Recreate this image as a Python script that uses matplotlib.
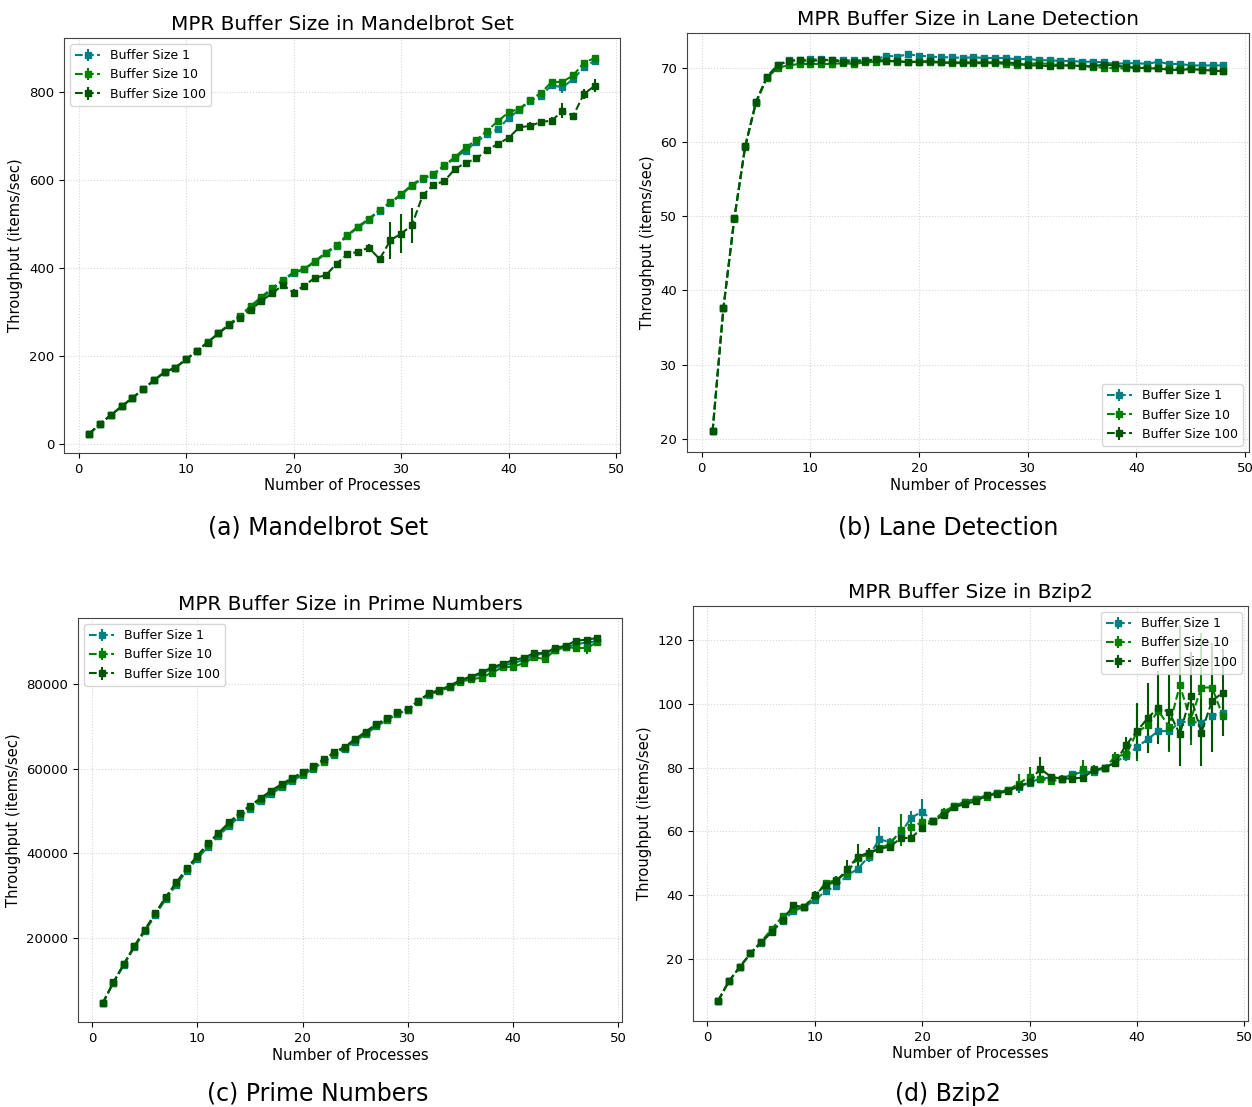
import matplotlib
matplotlib.use("Agg")
import matplotlib.pyplot as plt

W, H = 1252, 1107

processes = list(range(1, 49))
series_labels = ["Buffer Size 1", "Buffer Size 10", "Buffer Size 100"]
series_colors = ["#008080", "#008000", "#005500"]

# ---- Mandelbrot Set ----
mandel_b1 = [23, 45, 65, 85, 104, 124, 144, 163, 173, 192, 211, 231, 251, 271, 289, 310,
             330, 350, 370, 388, 397, 414, 433, 450, 473, 492, 510, 530, 547, 566, 587, 603,
             612, 631, 650, 667, 686, 705, 716, 741, 760, 780, 792, 815, 811, 829, 857, 871]
mandel_b10 = [23, 45, 65, 85, 104, 124, 144, 163, 173, 192, 211, 231, 251, 272, 291, 313,
              334, 354, 373, 390, 398, 416, 435, 452, 475, 494, 512, 532, 549, 568, 589, 605,
              614, 633, 652, 674, 691, 712, 734, 754, 762, 782, 798, 823, 823, 838, 867, 877]
mandel_b100 = [23, 46, 65, 85, 104, 124, 144, 163, 173, 192, 211, 230, 251, 270, 287, 304,
               325, 342, 361, 344, 360, 378, 383, 410, 431, 437, 446, 420, 463, 478, 497, 565,
               589, 597, 625, 639, 649, 668, 682, 696, 720, 723, 732, 735, 757, 746, 796, 814]
mandel_err1 = [1, 1, 1, 1, 1, 1, 1, 1, 1, 1, 1, 1, 1, 2, 2, 2, 2, 2, 2, 2, 2, 2, 2, 2,
               2, 2, 2, 2, 2, 2, 2, 2, 2, 2, 2, 3, 3, 3, 3, 3, 3, 3, 3, 5, 13, 5, 4, 3]
mandel_err10 = [1, 1, 1, 1, 1, 1, 1, 1, 1, 1, 1, 1, 1, 2, 2, 2, 2, 2, 2, 2, 2, 2, 2, 2,
                2, 2, 2, 2, 2, 2, 2, 2, 2, 2, 2, 3, 3, 3, 3, 3, 3, 3, 3, 6, 4, 6, 4, 3]
mandel_err100 = [1, 1, 1, 1, 1, 1, 1, 1, 1, 1, 1, 1, 1, 2, 3, 2, 3, 3, 8, 8, 3, 3, 3, 4,
                 6, 5, 8, 8, 42, 44, 40, 8, 4, 4, 4, 4, 6, 4, 3, 3, 4, 8, 4, 8, 17, 4, 12, 15]

# ---- Lane Detection ----
lane_b1 = [21.0, 37.6, 49.7, 59.4, 65.4, 68.8, 70.4, 71.0, 71.0, 71.1, 71.1, 71.0, 71.0, 71.0,
           71.0, 71.1, 71.6, 71.5, 71.8, 71.6, 71.5, 71.4, 71.4, 71.3, 71.4, 71.3, 71.3, 71.3,
           71.1, 71.2, 71.0, 71.0, 70.9, 70.9, 70.8, 70.8, 70.7, 70.5, 70.6, 70.6, 70.5, 70.8,
           70.5, 70.5, 70.3, 70.3, 70.3, 70.3]
lane_b10 = [21.0, 37.6, 49.6, 59.3, 65.3, 68.6, 70.0, 70.3, 70.5, 70.5, 70.5, 70.5, 70.6, 70.5,
            70.7, 70.8, 70.9, 70.8, 70.8, 70.8, 70.7, 70.7, 70.6, 70.6, 70.6, 70.6, 70.6, 70.5,
            70.3, 70.5, 70.6, 70.5, 70.3, 70.3, 70.2, 70.1, 70.0, 69.9, 69.9, 70.0, 70.0, 69.9,
            69.9, 69.9, 69.9, 69.7, 69.7, 69.6]
lane_b100 = [21.0, 37.6, 49.7, 59.4, 65.4, 68.7, 70.3, 70.9, 71.0, 70.9, 71.0, 71.0, 70.8, 70.8,
             70.9, 71.1, 70.9, 70.9, 70.7, 70.8, 70.9, 70.7, 70.7, 70.7, 70.7, 70.7, 70.7, 70.7,
             70.6, 70.3, 70.3, 70.2, 70.3, 70.3, 70.2, 70.2, 70.4, 70.3, 70.1, 70.0, 69.9, 69.9,
             69.7, 69.7, 69.8, 69.7, 69.6, 69.5]
lane_err1 = [0.2, 0.3, 0.3, 0.3, 0.3, 0.3, 0.3, 0.3, 0.3, 0.3, 0.3, 0.3, 0.3, 0.3, 0.3, 0.3,
             0.3, 0.3, 0.3, 0.3, 0.3, 0.3, 0.3, 0.3, 0.3, 0.3, 0.3, 0.3, 0.3, 0.3, 0.3, 0.3,
             0.3, 0.3, 0.3, 0.3, 0.3, 0.3, 0.3, 0.3, 0.3, 0.4, 0.3, 0.3, 0.3, 0.3, 0.3, 0.3]
lane_err10 = [0.2, 0.3, 0.3, 0.3, 0.3, 0.3, 0.3, 0.3, 0.3, 0.3, 0.3, 0.3, 0.3, 0.3, 0.3, 0.3,
              0.3, 0.3, 0.3, 0.3, 0.3, 0.3, 0.3, 0.3, 0.3, 0.3, 0.3, 0.3, 0.3, 0.3, 0.3, 0.3,
              0.3, 0.3, 0.3, 0.3, 0.3, 0.3, 0.3, 0.3, 0.3, 0.3, 0.3, 0.3, 0.3, 0.3, 0.3, 0.3]
lane_err100 = [0.2, 0.3, 0.3, 0.3, 0.3, 0.3, 0.3, 0.3, 0.3, 0.3, 0.3, 0.3, 0.3, 0.3, 0.3, 0.3,
               0.3, 0.3, 0.3, 0.3, 0.3, 0.3, 0.3, 0.3, 0.3, 0.3, 0.3, 0.3, 0.3, 0.3, 0.3, 0.3,
               0.3, 0.3, 0.3, 0.3, 0.3, 0.3, 0.3, 0.3, 0.3, 0.3, 0.3, 0.3, 0.3, 0.3, 0.3, 0.3]

# ---- Prime Numbers ----
prime_b1 = [4600, 9350, 13600, 17800, 21550, 25400, 29200, 32550, 35900, 38700, 41600, 44050,
            46500, 48650, 50500, 52300, 54000, 55600, 57100, 58500, 59950, 61600, 63250, 64650,
            66400, 68150, 70000, 71400, 72900, 73850, 75900, 77500, 78400, 79300, 80700, 81500,
            82400, 83600, 84350, 84900, 85700, 86700, 87300, 88100, 88700, 89400, 89800, 90100]
prime_b10 = [4650, 9450, 13750, 18000, 21800, 25750, 29550, 32900, 36250, 39150, 42000, 44500,
             47000, 49200, 50950, 52750, 54500, 56000, 57500, 58850, 60250, 61900, 63550, 64950,
             66700, 68500, 70300, 71650, 73050, 73950, 75800, 77550, 78300, 79250, 80550, 81100,
             81500, 82700, 83900, 84100, 84900, 86300, 85900, 88000, 88700, 88500, 88500, 89900]
prime_b100 = [4650, 9500, 13850, 18100, 21950, 25900, 29750, 33150, 36500, 39450, 42350, 44800,
              47300, 49500, 51250, 53050, 54800, 56350, 57800, 59150, 60550, 62200, 63850, 65200,
              67000, 68750, 70550, 71900, 73300, 74100, 76050, 77800, 78600, 79600, 80950, 81750,
              82750, 83950, 84750, 85650, 86150, 87300, 87300, 88500, 89050, 90250, 90450, 90900]
prime_err1 = [100, 200, 300, 300, 300, 300, 300, 300, 300, 300, 300, 300, 300, 300, 300, 300,
              300, 300, 300, 300, 300, 300, 300, 300, 300, 300, 300, 300, 300, 300, 300, 300,
              300, 300, 300, 300, 400, 400, 400, 400, 400, 400, 400, 400, 400, 400, 400, 400]
prime_err10 = [100, 200, 300, 300, 300, 300, 300, 300, 300, 300, 300, 300, 300, 300, 300, 300,
               300, 300, 300, 300, 300, 300, 300, 300, 300, 300, 300, 300, 300, 300, 300, 300,
               300, 300, 300, 300, 500, 500, 500, 500, 500, 500, 600, 500, 500, 600, 1500, 600]
prime_err100 = [100, 200, 300, 300, 400, 400, 400, 400, 400, 400, 400, 400, 400, 400, 400, 400,
                400, 400, 400, 400, 400, 400, 400, 400, 400, 400, 400, 400, 400, 400, 400, 400,
                400, 400, 400, 400, 500, 500, 500, 500, 500, 500, 600, 500, 500, 600, 600, 350]

# ---- Bzip2 ----
bzip_b1 = [6.8, 12.9, 17.3, 21.6, 24.8, 28.6, 31.8, 34.9, 36.2, 38.3, 41.2, 42.8, 46.1, 48.2,
           52.0, 57.5, 56.6, 59.6, 64.3, 66.2, 63.2, 65.9, 68.0, 69.3, 70.3, 71.3, 72.2, 73.0,
           73.9, 75.3, 76.6, 76.9, 76.6, 77.9, 78.7, 78.7, 80.0, 81.8, 83.7, 86.5, 88.9, 91.6,
           91.4, 94.4, 94.4, 94.2, 96.3, 97.3]
bzip_b10 = [6.8, 12.9, 17.3, 21.6, 25.3, 29.3, 33.3, 35.5, 36.2, 39.6, 43.8, 44.7, 47.0, 51.7,
            52.7, 54.8, 55.9, 60.4, 61.3, 62.9, 63.2, 66.2, 68.0, 69.3, 70.1, 70.8, 72.2, 73.0,
            75.0, 77.2, 76.6, 75.8, 76.3, 77.4, 79.5, 79.5, 80.0, 83.5, 84.2, 91.2, 93.3, 97.9,
            92.9, 105.9, 95.0, 105.2, 105.2, 96.3]
bzip_b100 = [6.8, 12.9, 17.3, 21.6, 25.2, 28.4, 32.0, 36.7, 36.2, 40.1, 43.0, 44.3, 48.0, 52.0,
             53.3, 54.5, 55.2, 57.8, 58.0, 61.1, 63.2, 65.0, 67.7, 68.5, 69.5, 71.3, 71.8, 72.7,
             74.2, 75.5, 79.7, 77.1, 76.6, 76.6, 76.9, 79.3, 80.0, 81.6, 87.2, 91.4, 95.6, 98.9,
             97.5, 90.5, 102.6, 91.0, 101.0, 103.6]
bzip_err1 = [0.3, 0.4, 0.5, 0.5, 0.6, 0.6, 0.7, 0.8, 0.8, 0.8, 1.0, 1.0, 1.2, 1.2, 1.5, 4.0,
             1.2, 1.5, 2.0, 4.0, 1.0, 1.0, 0.8, 0.8, 0.8, 0.8, 0.8, 0.8, 0.8, 1.0, 1.5, 1.0,
             1.0, 1.0, 1.0, 1.0, 1.0, 1.2, 1.5, 2.0, 3.0, 2.5, 2.5, 3.0, 2.0, 2.5, 3.0, 2.0]
bzip_err10 = [0.3, 0.4, 0.5, 0.5, 0.6, 0.6, 0.7, 0.8, 0.8, 0.8, 1.0, 1.0, 2.0, 1.5, 1.2, 1.2,
              1.2, 5.0, 3.0, 1.5, 1.0, 1.0, 0.8, 0.8, 0.8, 0.8, 0.8, 1.0, 3.0, 3.0, 1.5, 1.0,
              1.0, 1.0, 3.0, 1.5, 1.0, 1.5, 1.5, 9.0, 5.0, 6.0, 8.0, 19.0, 8.0, 17.0, 14.0, 6.0]
bzip_err100 = [0.5, 0.5, 0.5, 0.6, 0.7, 0.8, 0.8, 1.0, 0.8, 1.0, 1.2, 1.5, 3.0, 4.0, 1.5, 1.2,
               1.0, 1.2, 1.2, 1.0, 1.0, 0.8, 0.8, 0.8, 0.8, 1.0, 1.0, 0.8, 1.0, 1.0, 3.8, 1.0,
               1.0, 1.0, 1.2, 1.2, 1.0, 1.5, 2.5, 8.7, 11.0, 11.5, 12.0, 10.0, 13.8, 10.5, 16.0, 13.6]

panels = [
    dict(title="MPR Buffer Size in Mandelbrot Set", caption="(a) Mandelbrot Set",
         values=[mandel_b1, mandel_b10, mandel_b100],
         errors=[mandel_err1, mandel_err10, mandel_err100],
         legend_loc="upper left", box=(64, 38, 620, 453), cap=(318, 528)),
    dict(title="MPR Buffer Size in Lane Detection", caption="(b) Lane Detection",
         values=[lane_b1, lane_b10, lane_b100],
         errors=[lane_err1, lane_err10, lane_err100],
         legend_loc="lower right", box=(687, 33, 1249, 452), cap=(948, 528)),
    dict(title="MPR Buffer Size in Prime Numbers", caption="(c) Prime Numbers",
         values=[prime_b1, prime_b10, prime_b100],
         errors=[prime_err1, prime_err10, prime_err100],
         legend_loc="upper left", box=(78, 618, 622, 1022), cap=(318, 1094)),
    dict(title="MPR Buffer Size in Bzip2", caption="(d) Bzip2",
         values=[bzip_b1, bzip_b10, bzip_b100],
         errors=[bzip_err1, bzip_err10, bzip_err100],
         legend_loc="upper right", box=(693, 606, 1248, 1021), cap=(948, 1094)),
]

fig = plt.figure(figsize=(W / 100, H / 100), dpi=100)

for p in panels:
    x0, y0, x1, y1 = p["box"]
    ax = fig.add_axes([x0 / W, 1 - y1 / H, (x1 - x0) / W, (y1 - y0) / H])
    for vals, errs, lab, col in zip(p["values"], p["errors"], series_labels, series_colors):
        ax.errorbar(processes, vals, yerr=errs, fmt="s--", color=col, label=lab,
                    markersize=5, linewidth=1.5, elinewidth=1.5, capsize=0)
    ax.set_title(p["title"], fontsize=14.4)
    ax.set_xlabel("Number of Processes", fontsize=10.6, labelpad=2)
    ax.set_ylabel("Throughput (items/sec)", fontsize=10.6)
    ax.tick_params(labelsize=9.5)
    ax.grid(True, linestyle=":", color="#cccccc", linewidth=0.8, alpha=0.8)
    for s in ax.spines.values():
        s.set_color("#444444")
    ax.legend(loc=p["legend_loc"], fontsize=9)
    cx, cy = p["cap"]
    fig.text(cx / W, 1 - cy / H, p["caption"], ha="center", va="center", fontsize=17)

fig.savefig("out.png", dpi=100)
